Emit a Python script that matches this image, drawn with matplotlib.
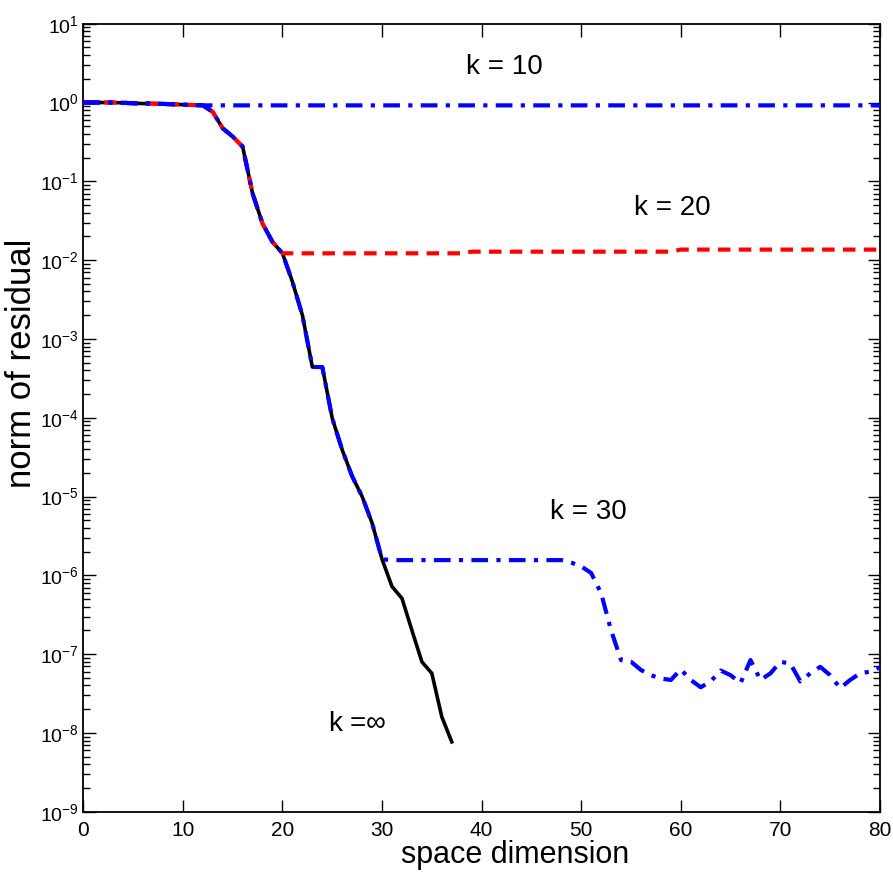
import matplotlib.pyplot as plt
import numpy as np
from matplotlib.ticker import NullFormatter, FixedLocator

plt.rcParams['font.family'] = ['Liberation Sans', 'DejaVu Sans']
plt.rcParams['mathtext.fontset'] = 'custom'
plt.rcParams['mathtext.rm'] = 'Liberation Sans'

# k = infinity (full history)
x_inf = np.arange(0, 38)
y_inf = [1.0, 1.0, 1.0, 1.0, 0.99, 0.98, 0.97, 0.97, 0.96, 0.95,
         0.94, 0.93, 0.92, 0.76, 0.47, 0.37, 0.275, 0.07, 0.029, 0.017,
         0.0122, 0.0053, 0.002, 4.4e-4, 4.4e-4, 9.8e-5, 3.9e-5, 1.8e-5, 1.0e-5, 4.6e-6,
         1.6e-6, 7.2e-7, 5.1e-7, 2.0e-7, 8.0e-8, 5.7e-8, 1.6e-8, 7.7e-9]

# k = 10
x_10 = np.arange(0, 81)
y_10 = y_inf[:13] + [0.92] * 68

# k = 20
x_20 = np.arange(0, 81)
y_20 = y_inf[:21] + [0.0122] * 18 + [0.0128] * 21 + [0.0136] * 21

# k = 30
x_30 = np.arange(0, 81)
y_30_tail = [1.56e-6] * 18 + [1.45e-6, 1.3e-6, 1.07e-6, 5.9e-7, 2.0e-7,
             8.4e-8, 8.0e-8, 6.3e-8, 5.4e-8, 4.9e-8, 4.7e-8, 6.4e-8, 4.7e-8, 3.8e-8,
             4.5e-8, 6.2e-8, 5.4e-8, 4.3e-8, 8.4e-8, 4.7e-8, 5.7e-8, 8.0e-8, 7.6e-8,
             4.5e-8, 5.7e-8, 6.9e-8, 5.4e-8, 3.7e-8, 4.7e-8, 5.7e-8, 6.0e-8, 6.8e-8]
y_30 = y_inf[:31] + y_30_tail

labels = ['k = 10', 'k = 20', 'k = 30', r'k =$\infty$']
label_x = [42.3, 59.1, 50.7, 27.5]
label_y = [2.8, 0.046, 6.4e-6, 1.3e-8]

fig = plt.figure(figsize=(8.93, 8.75), dpi=100)
ax = fig.add_axes([0.0933, 0.0723, 0.8921, 0.9006])

ax.plot(x_inf, y_inf, color='black', lw=2.6, zorder=2)
ax.plot(x_20, y_20, color='red', lw=3, linestyle=(0, (3, 2)), zorder=3)
ax.plot(x_10, y_10, color='blue', lw=3, linestyle=(0, (4, 2, 1, 2)), zorder=4)
ax.plot(x_30, y_30, color='blue', lw=3, linestyle=(0, (4, 2, 1, 2)), zorder=4)

for t, lx, ly in zip(labels, label_x, label_y):
    ax.text(lx, ly, t, fontsize=20, ha='center', va='center')

ax.set_yscale('log')
ax.set_xlim(0, 80)
ax.set_ylim(1e-9, 1e1)
ax.xaxis.set_major_locator(FixedLocator(np.arange(0, 81, 10)))
decades = np.arange(-9, 2)
ax.yaxis.set_major_locator(FixedLocator(10.0 ** decades))
minors = [m * 10.0 ** d for d in decades[:-1] for m in range(2, 10)]
ax.yaxis.set_minor_locator(FixedLocator(minors))
ax.yaxis.set_minor_formatter(NullFormatter())
ax.tick_params(which='both', direction='in', top=True, right=True)
ax.tick_params(which='major', length=9, width=1)
ax.tick_params(which='minor', length=5, width=1)
ax.tick_params(axis='x', pad=7, labelsize=15)
ax.tick_params(axis='y', pad=3, labelsize=14)
for s in ax.spines.values():
    s.set_linewidth(1.3)

fig.text(515 / 893, 1 - 855 / 875, 'space dimension', fontsize=22, ha='center', va='center')
fig.text(22 / 893, 1 - 363 / 875, 'norm of residual', fontsize=25, ha='center', va='center',
         rotation=90)

fig.savefig('out.png', dpi=100)
